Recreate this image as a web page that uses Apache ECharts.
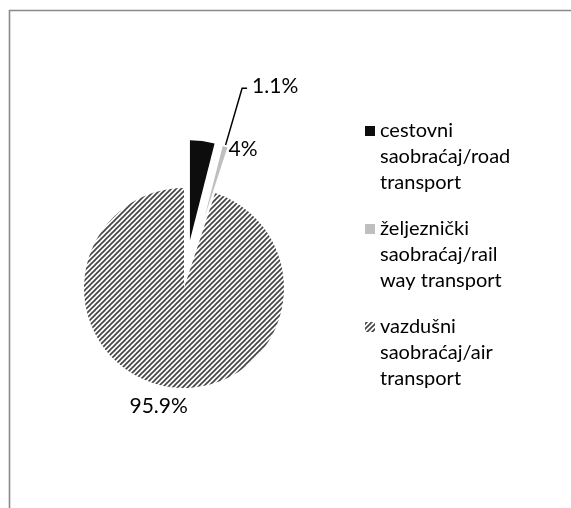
<!DOCTYPE html>
<html>
<head>
<meta charset="utf-8">
<script src="https://cdn.jsdelivr.net/npm/echarts@6/dist/echarts.min.js"></script>
<style>
  html, body { margin: 0; padding: 0; background: #fff; }
  #chart { width: 571px; height: 508px; }
</style>
</head>
<body>
<div id="chart"></div>
<script>
// podaci
var names = [
  'cestovni\nsaobraćaj/road\ntransport',
  'željeznički\nsaobraćaj/rail\nway transport',
  'vazdušni\nsaobraćaj/air\ntransport'
];
var shares = [4, 1.1, 95.9];
var colors = ['#0d0d0d', '#bfbfbf'];

var font = 'Lato';

// šrafura za vazdušni saobraćaj
function hatch() {
  var c = document.createElement('canvas');
  c.width = 5; c.height = 5;
  var g = c.getContext('2d');
  g.fillStyle = '#fff';
  g.fillRect(0, 0, 5, 5);
  g.strokeStyle = '#454545';
  g.lineWidth = 1.7;
  for (var k = -5; k <= 5; k += 5) {
    g.beginPath();
    g.moveTo(k - 1, 6);
    g.lineTo(k + 6, -1);
    g.stroke();
  }
  return { image: c, repeat: 'repeat' };
}

var fills = [colors[0], colors[1], hatch()];
var borders = [0, 1.8, 0];
var lines = [
  { show: false, length: 2, length2: 0 },
  { show: true, length: 60, length2: 5, lineStyle: { color: '#000', width: 1.5 } },
  { show: false, length: 15, length2: 0 }
];
var shifts = [[21, 10], [0, -2], [27, 5]];

var chart = echarts.init(document.getElementById('chart'));
chart.setOption({
  animation: false,
  backgroundColor: '#fff',
  graphic: [
    { type: 'polyline', shape: { points: [[9.5, 508], [9.5, 10.5], [571, 10.5]] },
      style: { stroke: '#8a8a8a', lineWidth: 1.6, fill: null } }
  ],
  legend: {
    orient: 'vertical',
    left: 365,
    top: 118,
    padding: 0,
    itemGap: 20,
    itemWidth: 10,
    itemHeight: 78,
    icon: 'path://M0,0M0,8h10v10h-10zM10,78',
    itemStyle: { borderWidth: 0, borderColor: 'transparent' },
    textStyle: { fontFamily: font, fontSize: 20, lineHeight: 26, color: '#000' },
    data: names.map(function (n) {
      return { name: n, itemStyle: { borderWidth: 0, borderColor: 'transparent' } };
    })
  },
  series: [{
    type: 'pie',
    center: [184, 288],
    radius: 100,
    startAngle: 90,
    clockwise: true,
    selectedMode: 'multiple',
    selectedOffset: 48,
    avoidLabelOverlap: false,
    emphasis: { disabled: true },
    label: {
      show: true,
      position: 'outside',
      fontFamily: font,
      fontSize: 21,
      color: '#000',
      formatter: function (p) { return p.value + '%'; }
    },
    labelLayout: function (p) {
      return { dx: shifts[p.dataIndex][0], dy: shifts[p.dataIndex][1] };
    },
    data: shares.map(function (v, i) {
      return {
        value: v,
        name: names[i],
        selected: i < 2,
        itemStyle: { color: fills[i], borderColor: '#fff', borderWidth: borders[i] },
        labelLine: lines[i]
      };
    })
  }]
});
</script>
</body>
</html>
